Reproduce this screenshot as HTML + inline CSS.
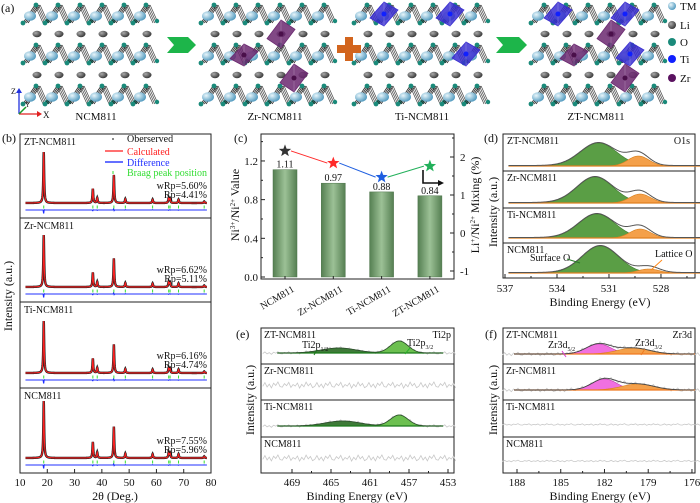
<!DOCTYPE html>
<html><head><meta charset="utf-8">
<style>
html,body{margin:0;padding:0;background:#fff;}
svg{display:block;font-family:"Liberation Serif",serif;}
</style></head>
<body>
<svg id="fig" width="700" height="503" viewBox="0 0 700 503" xmlns="http://www.w3.org/2000/svg">
<defs>
<linearGradient id="barg" x1="0" x2="1" y1="0" y2="0">
<stop offset="0" stop-color="#557f52"/><stop offset="0.5" stop-color="#9cc196"/><stop offset="1" stop-color="#557f52"/>
</linearGradient>
<radialGradient id="tmg" cx="0.35" cy="0.35" r="0.7"><stop offset="0" stop-color="#e8f6fb"/><stop offset="1" stop-color="#4d97bd"/></radialGradient>
<radialGradient id="lig" cx="0.35" cy="0.35" r="0.7"><stop offset="0" stop-color="#aaa"/><stop offset="1" stop-color="#333"/></radialGradient>
</defs>
<g id="pa"></g>
<g id="pb"></g>
<g id="pc"></g>
<g id="pd"></g>
<g id="pe"></g>
<g id="pf"></g>
</svg>
<script>
// ---------- DATA ----------
const samplesC = ["NCM811","Zr-NCM811","Ti-NCM811","ZT-NCM811"];
const niRatio = [1.11, 0.97, 0.88, 0.84];
const niLabels = ["1.11","0.97","0.88","0.84"];
const liMixing = [2.16, 1.84, 1.47, 1.76];
const starColors = ["#333333","#ff2a2a","#1f5fe0","#22b05a"];
const leftTicks = [0.0, 0.4, 0.8, 1.2];
const rightTicks = [-1, 0, 1, 2];

const xrdSamples = ["ZT-NCM811","Zr-NCM811","Ti-NCM811","NCM811"];
const xrdWRp = ["wRp=5.60%","wRp=6.62%","wRp=6.16%","wRp=7.55%"];
const xrdRp = ["Rp=4.41%","Rp=5.11%","Rp=4.74%","Rp=5.96%"];
const peakPos = [18.7, 36.7, 38.3, 44.4, 48.6, 58.6, 64.5, 65.0, 68.1, 77.5];
const peakHeight = [1.0, 0.28, 0.10, 0.55, 0.08, 0.07, 0.10, 0.08, 0.07, 0.03];
const xrdTicks = [10,20,30,40,50,60,70,80];

const o1sSamples = ["ZT-NCM811","Zr-NCM811","Ti-NCM811","NCM811"];
const surfCenter = [531.6, 531.8, 531.7, 531.5];
const surfHeight = [23, 26, 24, 27];
const latCenter = [529.3, 529.2, 529.2, 528.7];
const latHeight = [10, 9, 9, 4];
const o1sTicks = [537, 534, 531, 528];

const ti2pSamples = ["ZT-NCM811","Zr-NCM811","Ti-NCM811","NCM811"];
const ti32Height = [12, 0, 11, 0];
const ti12Height = [5, 0, 5, 0];
const ti32Center = [458.0, 0, 458.0, 0];
const ti12Center = [464.2, 0, 463.8, 0];
const ti2pTicks = [469, 465, 461, 457, 453];

const zrSamples = ["ZT-NCM811","Zr-NCM811","Ti-NCM811","NCM811"];
const zr52Height = [10, 11, 0, 0];
const zr32Height = [6, 6, 0, 0];
const zr52Center = [182.4, 182.0, 0, 0];
const zr32Center = [180.0, 179.7, 0, 0];
const zr3dTicks = [188, 185, 182, 179, 176];

const noiseVals = [0.6,-1.1,0.9,-0.4,1.3,-0.8,0.2,-1.4,0.7,1.0,-0.6,0.3,-1.2,1.1,-0.2,0.5,-0.9,1.4,-0.3,0.8,-1.3,0.4,-0.7,1.2];

// ---------- helpers ----------
const NS = "http://www.w3.org/2000/svg";
function mk(tag, attrs, parent){
  const e = document.createElementNS(NS, tag);
  for (const k in attrs) e.setAttribute(k, attrs[k]);
  parent.appendChild(e);
  return e;
}
function txt(str, x, y, size, parent, extra){
  const a = Object.assign({x:x, y:y, "font-size":size, fill:"#111"}, extra||{});
  const t = mk("text", a, parent);
  t.innerHTML = str;
  return t;
}
const PA = document.getElementById("pa");
const PB = document.getElementById("pb");
const PC = document.getElementById("pc");
const PD = document.getElementById("pd");
const PE = document.getElementById("pe");
const PF = document.getElementById("pf");

// ---------- panel a ----------
let t0 = txt("(a)", 1, 12, 12, PA);


function tmLayer(x0, y0, g){
  for (let i=0;i<6;i++){
    const cx = x0 + i*22;
    for (let k=0;k<4;k++){
      mk("line",{x1:cx-4+k*1.7,y1:y0+20,x2:cx+8+k*1.7,y2:y0+2,stroke:"#2a2a2a","stroke-width":0.8},g);
      mk("line",{x1:cx+8+k*1.7,y1:y0+2,x2:cx+16+k*1.7,y2:y0+20,stroke:"#444","stroke-width":0.7},g);
    }
    mk("circle",{cx:cx+9,cy:y0+2,r:2.4,fill:"#1a8a7a"},g);
    mk("circle",{cx:cx-4,cy:y0+20,r:2.4,fill:"#1a8a7a"},g);
    mk("circle",{cx:cx+20,cy:y0+18,r:2.2,fill:"#1a8a7a"},g);
    mk("ellipse",{cx:cx+3,cy:y0+13,rx:6,ry:4.8,fill:"url(#tmg)"},g);
  }
}
function liRow(x0, y, g){
  for (let i=0;i<6;i++) mk("ellipse",{cx:x0+10+i*22,cy:y,rx:4.5,ry:3.2,fill:"url(#lig)"},g);
}
function octa(cx, cy, w, h, color, g){
  mk("polygon",{points:`${cx},${cy-h/2} ${cx+w/2},${cy-h/6} ${cx},${cy+h/2} ${cx-w/2},${cy+h/6}`,fill:color,"fill-opacity":0.85,stroke:color,"stroke-width":0.8},g);
  mk("line",{x1:cx,y1:cy-h/2,x2:cx,y2:cy+h/2,stroke:"#fff","stroke-opacity":0.3,"stroke-width":0.6},g);
  mk("circle",{cx:cx,cy:cy,r:2.5,fill:color=="#3a2fd0"?"#1020ff":"#4a0f4a"},g);
}
const structX = [27, 205, 358, 535];
const structNames = ["NCM811","Zr-NCM811","Ti-NCM811","ZT-NCM811"];
const structLabelX = [96, 275, 422, 596];
for (let s=0;s<4;s++){
  const g = mk("g",{},PA);
  
  
  tmLayer(structX[s], 3, g);
  liRow(structX[s], 34, g);
  tmLayer(structX[s], 43, g);
  liRow(structX[s], 75, g);
  tmLayer(structX[s], 84, g);
  const lb = txt(structNames[s], structLabelX[s], 120, 11, PA, {"text-anchor":"middle"});
  
  
}
const PUR="#6b2870", BLU="#3a2fd0";
octa(281,34,28,28,PUR,PA); octa(244,55,28,22,PUR,PA); octa(294,78,28,28,PUR,PA);
octa(384,14,28,24,BLU,PA); octa(450,14,28,24,BLU,PA); octa(466,54,28,24,BLU,PA);
octa(558,14,28,24,BLU,PA); octa(625,14,28,24,BLU,PA); octa(611,34,28,28,PUR,PA);
octa(574,55,28,22,PUR,PA); octa(630,54,28,24,BLU,PA); octa(625,78,28,28,PUR,PA);
// arrows and plus
[[167,196],[496,527]].forEach(a=>{
  const p = mk("polygon",{points:`${a[0]},37 ${a[1]-8},37 ${a[1]},45 ${a[1]-8},53 ${a[0]},53 ${a[0]+7},45`,fill:"#1db54a"},PA);
  
  
});
const plus = mk("path",{d:"M345,37h8v8h8v8h-8v8h-8v-8h-8v-8h8z",fill:"#d2651e"},PA);


// axes icon
mk("line",{x1:19,y1:114,x2:19,y2:92,stroke:"#2233dd","stroke-width":1.3},PA);
mk("polygon",{points:"16,93 22,93 19,88",fill:"#2233dd"},PA);
mk("line",{x1:19,y1:114,x2:38,y2:114,stroke:"#e02020","stroke-width":1.3},PA);
mk("polygon",{points:"37,111 37,117 42,114",fill:"#e02020"},PA);
mk("line",{x1:19,y1:114,x2:26,y2:107,stroke:"#1a9a2a","stroke-width":1.5},PA);
txt("Z",11,94,8,PA); txt("Y",25,107,7,PA); txt("X",43,118,9,PA);
// legend
const legA = [["TM","url(#tmg)",6],["Li","url(#lig)",25],["O","#1a8a7a",42],["Ti","#1020ff",59],["Zr","#5a1260",78]];
legA.forEach(l=>{
  const c = mk("circle",{cx:672,cy:l[2],r:4,fill:l[1]},PA);
  
  
  const t = txt(l[0],680,l[2]+4,11,PA);
  
  
});

// ---------- panel b ----------
const bL=20, bR=211;
const xB = d => bL + (d-10)*(bR-bL)/70;
const bTops = [134, 218, 302, 388], bBots = [218, 302, 388, 473];
const bPeakH = [51, 52, 52, 57];
let lb = txt("(b)",2,142,12,PB);


for (let s=0;s<4;s++){
  const g = mk("g",{},PB);
  
  
  mk("rect",{x:bL,y:bTops[s],width:bR-bL,height:bBots[s]-bTops[s],fill:"none",stroke:"#222","stroke-width":1},g);
  const base = bBots[s]-15, diff = bBots[s]-8;
  let pts=[];
  for (let d=12; d<=78.5; d+=0.05){
    let v=0;
    for (let k=0;k<peakPos.length;k++){ const z=(d-peakPos[k])/0.18; v+=peakHeight[k]/(1+z*z); }
    pts.push(xB(d).toFixed(2)+","+(base - v*bPeakH[s]).toFixed(2));
  }
  const obs = mk("polyline",{points:pts.join(" "),fill:"none",stroke:"#222","stroke-width":2.4},g);
  
  
  const calc = mk("polyline",{points:pts.join(" "),fill:"none",stroke:"#ff2020","stroke-width":1.1},g);
  
  
  let dp=[];
  for (let d=12; d<=78.5; d+=0.1){
    let v=0;
    for (let k=0;k<peakPos.length;k++){ const z=(d-peakPos[k])/0.15; v+=peakHeight[k]*Math.exp(-z*z); }
    dp.push(xB(d).toFixed(2)+","+(diff - v*4*Math.sin(d*7)).toFixed(2));
  }
  const dl = mk("polyline",{points:dp.join(" "),fill:"none",stroke:"#2030ff","stroke-width":1.1},g);
  
  
  peakPos.forEach(p=>{
    const bt = mk("line",{x1:xB(p),x2:xB(p),y1:base+2.5,y2:base+5.5,stroke:"#33dd33","stroke-width":1},g);
    
    
  });
  const sn = txt(xrdSamples[s], 24, bTops[s]+11, 10, g);
  
  
  const w1 = txt(xrdWRp[s], 207, bBots[s]-29, 10, g, {"text-anchor":"end"});
  
  
  const w2 = txt(xrdRp[s], 207, bBots[s]-20, 10, g, {"text-anchor":"end"});
  
  
}
// legend b
mk("circle",{cx:113,cy:139,r:0.9,fill:"#333"},PB);
let lt = txt("Oberserved",127,142,10,PB);


mk("line",{x1:105,x2:123,y1:151,y2:151,stroke:"#ff4040","stroke-width":1.5},PB);
lt = txt("Calculated",127,155,10,PB,{fill:"#ff2020"});


mk("line",{x1:105,x2:123,y1:162,y2:162,stroke:"#3040ff","stroke-width":1.5},PB);
lt = txt("Difference",127,166,10,PB,{fill:"#2030ff"});


mk("line",{x1:113,x2:113,y1:171,y2:174,stroke:"#33dd33"},PB);
lt = txt("Braag peak position",127,176,10,PB,{fill:"#33dd33"});


xrdTicks.forEach(v=>{
  mk("line",{x1:xB(v),x2:xB(v),y1:473,y2:469,stroke:"#222"},PB);
  const t = txt(String(v), xB(v), 486, 11, PB, {"text-anchor":"middle"});
  
  
});
lt = txt("2θ (Deg.)",115,500,12,PB,{"text-anchor":"middle"});


lt = txt("Intensity (a.u.)",0,0,12,PB,{"text-anchor":"middle",transform:"translate(12,296) rotate(-90)"});



// ---------- panel c ----------
const cL=261, cR=454, cT=134, cB=279;
const yL = v => 277 - v*96.7;
const yR = v => 233 - v*38;
const xC = i => 285 + i*48.3;
lb = txt("(c)",234,142,12,PC);


mk("rect",{x:cL,y:cT,width:cR-cL,height:cB-cT,fill:"none",stroke:"#222","stroke-width":1},PC);
leftTicks.forEach(v=>{
  mk("line",{x1:cL,x2:cL+4,y1:yL(v),y2:yL(v),stroke:"#222"},PC);
  mk("line",{x1:cL,x2:cL+2,y1:yL(v+0.2),y2:yL(v+0.2),stroke:"#222"},PC);
  const t = txt(v.toFixed(1), cL-3, yL(v)+4, 11, PC, {"text-anchor":"end"});
  
  
});
rightTicks.forEach(v=>{
  mk("line",{x1:cR,x2:cR-4,y1:yR(v),y2:yR(v),stroke:"#222"},PC);
  mk("line",{x1:cR,x2:cR-2,y1:yR(v+0.5),y2:yR(v+0.5),stroke:"#222"},PC);
  const t = txt(String(v), cR+6, yR(v)+4, 11, PC);
  
  
});
samplesC.forEach((n,i)=>{
  const b = mk("rect",{x:xC(i)-12,y:yL(niRatio[i]),width:24,height:yL(0)-yL(niRatio[i]),fill:"url(#barg)",stroke:"#4d744a","stroke-width":0.5},PC);
  
  
  const vl = txt(niLabels[i], xC(i), yL(niRatio[i])-2, 10, PC, {"text-anchor":"middle"});
  
  
  mk("line",{x1:xC(i),x2:xC(i),y1:cB,y2:cB-3,stroke:"#222"},PC);
  const xl = txt(n, 0, 0, 10, PC, {"text-anchor":"end",transform:`translate(${xC(i)+10},${cB+12}) rotate(-30)`});
  
  
});
for (let i=0;i<3;i++){
  const ln = mk("line",{x1:xC(i)+6,y1:yR(liMixing[i]),x2:xC(i+1)-6,y2:yR(liMixing[i+1]),stroke:starColors[i+1],"stroke-width":1},PC);
  
  
}
function star(cx, cy, r, color, g){
  let p=[];
  for (let k=0;k<10;k++){ const a=-Math.PI/2+k*Math.PI/5; const rr = k%2?r*0.42:r; p.push((cx+rr*Math.cos(a)).toFixed(2)+","+(cy+rr*Math.sin(a)).toFixed(2)); }
  return mk("polygon",{points:p.join(" "),fill:color},g);
}
liMixing.forEach((v,i)=>{
  const s = star(xC(i), yR(v), 6.5, starColors[i], PC);
  
  
});
mk("polyline",{points:"423,170 423,183 440,183",fill:"none",stroke:"#111","stroke-width":1.6},PC);
mk("polygon",{points:"438,180 444,183 438,186",fill:"#111"},PC);
lt = txt("Ni<tspan font-size='7' dy='-4'>3+</tspan><tspan dy='4'>/Ni</tspan><tspan font-size='7' dy='-4'>2+</tspan><tspan dy='4'> Value</tspan>",0,0,12,PC,{"text-anchor":"middle",transform:"translate(239,205) rotate(-90)"});


lt = txt("Li<tspan font-size='7' dy='-4'>+</tspan><tspan dy='4'>/Ni</tspan><tspan font-size='7' dy='-4'>2+</tspan><tspan dy='4'> Mixing (%)</tspan>",0,0,12,PC,{"text-anchor":"middle",transform:"translate(479,205) rotate(-90)"});



// ---------- XPS common ----------
const subTops = [134, 171, 208, 243], subBots = [171, 208, 243, 278];
const eTops = [328, 364, 400, 437], eBots = [364, 400, 437, 473];
function gauss(x,c,h,s){ return h*Math.exp(-(x-c)*(x-c)/(2*s*s)); }
function area(g, xf, from, to, base, c, h, s, fill, stroke){
  let p=[xf(from).toFixed(2)+","+base];
  for (let e=from; e>=to; e-=0.05) p.push(xf(e).toFixed(2)+","+(base-gauss(e,c,h,s)).toFixed(2));
  p.push(xf(to).toFixed(2)+","+base);
  return mk("polygon",{points:p.join(" "),fill:fill,stroke:stroke,"stroke-width":0.6},g);
}
function envelope(g, xf, from, to, base, peaks, color, w){
  let p=[];
  for (let e=from; e>=to; e-=0.05){ let v=0; peaks.forEach(k=>v+=gauss(e,k[0],k[1],k[2])); p.push(xf(e).toFixed(2)+","+(base-v).toFixed(2)); }
  return mk("polyline",{points:p.join(" "),fill:"none",stroke:color,"stroke-width":w},g);
}
function noise(g, xf, from, to, base, amp, peaks){
  let p=[], j=0;
  for (let e=from; e>=to; e-=(from-to)/90){ let v=0; peaks.forEach(k=>v+=gauss(e,k[0],k[1],k[2])); p.push(xf(e).toFixed(2)+","+(base-v+noiseVals[j%noiseVals.length]*amp).toFixed(2)); j++; }
  return mk("polyline",{points:p.join(" "),fill:"none",stroke:"#c8c8c8","stroke-width":0.8},g);
}
function minorTick(g, x, xmin, xmax, y){
  if (x > xmin && x < xmax) mk("line",{x1:x,x2:x,y1:y,y2:y-2,stroke:"#222"},g);
}

// ---------- panel d ----------
const xD = be => 505 + (537-be)*17.33;
lb = txt("(d)",484,142,12,PD);


for (let s=0;s<4;s++){
  const g = mk("g",{},PD);
  
  
  mk("rect",{x:503,y:subTops[s],width:192,height:subBots[s]-subTops[s],fill:"none",stroke:"#222"},g);
  const base = subBots[s]-5;
  const a1 = area(g, xD, 536.8, 525.5, base, surfCenter[s], surfHeight[s], 1.05, "#5a9e45", "#3f7a30");
  
  
  const a2 = area(g, xD, 536.8, 525.5, base, latCenter[s], latHeight[s], 0.6, "#f4a04a", "#d8801e");
  
  
  mk("line",{x1:xD(536.8),x2:xD(525.5),y1:base,y2:base,stroke:"#e08020","stroke-width":1.2},g);
  const env = envelope(g, xD, 536.8, 525.5, base-0.5, [[surfCenter[s],surfHeight[s],1.05],[latCenter[s],latHeight[s]+2,0.6]], "#555", 1);
  
  
  const sn = txt(o1sSamples[s], 507, subTops[s]+10, 10, g);
  
  
}
lt = txt("O1s",690,144,10,PD,{"text-anchor":"end"});


lt = txt("Surface O",530,261,10,PD);


mk("line",{x1:567,y1:259,x2:580,y2:263,stroke:"#2a7a2a","stroke-width":1},PD);
lt = txt("Lattice O",655,257,10,PD);


mk("line",{x1:662,y1:260,x2:651,y2:270,stroke:"#ff8a1a","stroke-width":1},PD);
o1sTicks.forEach(v=>{
  mk("line",{x1:xD(v),x2:xD(v),y1:278,y2:274,stroke:"#222"},PD);
  minorTick(PD, xD(v-1.5), 503, 695, 278);
  const t = txt(String(v), xD(v), 292, 11, PD, {"text-anchor":"middle"});
  
  
});
lt = txt("Binding Energy (eV)",600,306,12,PD,{"text-anchor":"middle"});


lt = txt("Intensity (a.u.)",0,0,12,PD,{"text-anchor":"middle",transform:"translate(497,212) rotate(-90)"});



// ---------- panel e ----------
const xE = be => 292 + (469-be)*9.75;
lb = txt("(e)",236,338,12,PE);


for (let s=0;s<4;s++){
  const g = mk("g",{},PE);
  
  
  mk("rect",{x:261,y:eTops[s],width:193,height:eBots[s]-eTops[s],fill:"none",stroke:"#222"},g);
  const mid = (eTops[s]+eBots[s])/2;
  if (ti32Height[s]>0){
    const base = eBots[s]-11;
    const pk = [[ti32Center[s],ti32Height[s],0.9],[ti12Center[s],ti12Height[s],1.8]];
    noise(g, xE, 472, 452, base, 1, pk);
    const a1 = area(g, xE, 470.5, 453.5, base, ti12Center[s], ti12Height[s], 1.8, "#3e7a38", "#2d5e28");
    
    
    const a2 = area(g, xE, 470.5, 453.5, base, ti32Center[s], ti32Height[s], 0.9, "#6cc050", "#3a8a2a");
    
    
    mk("line",{x1:xE(470.5),x2:xE(453.5),y1:base,y2:base,stroke:"#1a7a1a","stroke-width":1.2},g);
    envelope(g, xE, 470.5, 453.5, base, pk, "#2f4f2f", 0.8);
  } else {
    const nl = noise(g, xE, 472, 452, mid+3, 2.2, []);
    
    
  }
  const sn = txt(ti2pSamples[s], 264, eTops[s]+10, 10, g);
  
  
}
lt = txt("Ti2p",451,338,10,PE,{"text-anchor":"end"});


lt = txt("Ti2p<tspan font-size='6' dy='3'>1/2</tspan>",302,348,10,PE);


mk("line",{x1:317,y1:350,x2:314,y2:355,stroke:"#1a7a1a"},PE);
lt = txt("Ti2p<tspan font-size='6' dy='3'>3/2</tspan>",407,346,10,PE);


mk("line",{x1:410,y1:348,x2:405,y2:354,stroke:"#2ab02a"},PE);
ti2pTicks.forEach(v=>{
  mk("line",{x1:xE(v),x2:xE(v),y1:473,y2:469,stroke:"#222"},PE);
  minorTick(PE, xE(v-2), 261, 454, 473);
  const t = txt(String(v), xE(v), 486, 11, PE, {"text-anchor":"middle"});
  
  
});
lt = txt("Binding Energy (eV)",357,500,12,PE,{"text-anchor":"middle"});


lt = txt("Intensity (a.u.)",0,0,12,PE,{"text-anchor":"middle",transform:"translate(254,400) rotate(-90)"});



// ---------- panel f ----------
const xF = be => 517 + (188-be)*14.58;
lb = txt("(f)",485,338,12,PF);


for (let s=0;s<4;s++){
  const g = mk("g",{},PF);
  
  
  mk("rect",{x:503,y:eTops[s],width:192,height:eBots[s]-eTops[s],fill:"none",stroke:"#222"},g);
  if (zr52Height[s]>0){
    const base = eBots[s]-10;
    const pk = [[zr52Center[s],zr52Height[s],0.85],[zr32Center[s],zr32Height[s],1.1]];
    noise(g, xF, 189, 175.3, base, 1.3, pk);
    const a1 = area(g, xF, 188.2, 175.8, base, zr52Center[s], zr52Height[s], 0.85, "#f070e0", "#c040b0");
    
    
    const a2 = area(g, xF, 188.2, 175.8, base, zr32Center[s], zr32Height[s], 1.1, "#f4a04a", "#d8801e");
    
    
    mk("line",{x1:xF(188.2),x2:xF(175.8),y1:base,y2:base,stroke:"#f07a20","stroke-width":1.3},g);
    envelope(g, xF, 188.2, 175.8, base, pk, "#444", 0.9);
  } else {
    const nl = noise(g, xF, 189, 175.3, (eTops[s]+eBots[s])/2+6, 0.6, []);
    
    
  }
  const sn = txt(zrSamples[s], 506, eTops[s]+10, 10, g);
  
  
}
lt = txt("Zr3d",692,338,10,PF,{"text-anchor":"end"});


lt = txt("Zr3d<tspan font-size='6' dy='3'>5/2</tspan>",548,348,10,PF);


mk("line",{x1:562,y1:351,x2:566,y2:357,stroke:"#e040d0"},PF);
lt = txt("Zr3d<tspan font-size='6' dy='3'>3/2</tspan>",635,346,10,PF);


mk("line",{x1:645,y1:349,x2:641,y2:355,stroke:"#f07a20"},PF);
zr3dTicks.forEach(v=>{
  mk("line",{x1:xF(v),x2:xF(v),y1:473,y2:469,stroke:"#222"},PF);
  minorTick(PF, xF(v-1.5), 503, 695, 473);
  const t = txt(String(v), xF(v), 486, 11, PF, {"text-anchor":"middle"});
  
  
});
lt = txt("Binding Energy (eV)",600,500,12,PF,{"text-anchor":"middle"});


lt = txt("Intensity (a.u.)",0,0,12,PF,{"text-anchor":"middle",transform:"translate(497,400) rotate(-90)"});


</script>
</body></html>
